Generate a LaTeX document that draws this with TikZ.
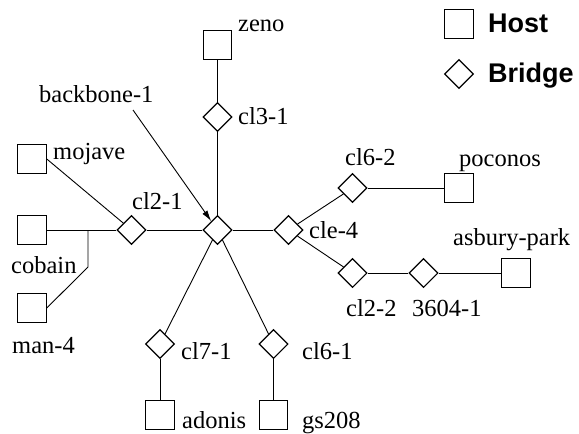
\documentclass[tikz,border=0pt]{standalone}
\usepackage{fontspec}
\setmainfont{Liberation Serif}
\newfontfamily\legendfont{Liberation Sans}
\usetikzlibrary{shapes.geometric,arrows.meta}
\tikzset{
  host/.style={draw, line width=1.1pt, minimum size=28.5pt, inner sep=0pt, fill=white},
  bridge/.style={draw, diamond, line width=1.1pt, minimum width=29pt, minimum height=29pt, inner sep=0pt, fill=white},
  lbl/.style={inner sep=0pt, anchor=base west, font=\fontsize{24.5}{28}\selectfont},
  leg/.style={inner sep=0pt, anchor=base west, font=\legendfont\bfseries\fontsize{27}{30}\selectfont},
  link/.style={line width=0.9pt}
}
\begin{document}
\begin{tikzpicture}[x=1pt,y=-1pt]
\useasboundingbox (0,0) rectangle (579,434);
% hosts
\node[host] (zeno) at (217.5,45) {};
\node[host] (mojave) at (32,159) {};
\node[host] (cobain) at (32,230) {};
\node[host] (man4) at (32,308) {};
\node[host] (poconos) at (459,188) {};
\node[host] (asbury) at (516,273) {};
\node[host] (adonis) at (160,415) {};
\node[host] (gs208) at (273.5,415) {};
% bridges
\node[bridge] (bb) at (217.5,230) {};
\node[bridge] (cl31) at (217.5,117) {};
\node[bridge] (cl21) at (131.5,230) {};
\node[bridge] (cle4) at (288.5,230) {};
\node[bridge] (cl62) at (352.5,188) {};
\node[bridge] (cl22) at (352.5,273) {};
\node[bridge] (b3604) at (423.5,273) {};
\node[bridge] (cl71) at (160,344) {};
\node[bridge] (cl61) at (273.5,344) {};
% coordinates
\coordinate (j1) at (88,230);
\coordinate (j2) at (88,267);
\coordinate (bbtail) at (133,110);
% links
\draw[link] (zeno) -- (cl31);
\draw[link] (cl31) -- (bb);
\draw[link] (bb) -- (cl21);
\draw[link] (cl21) -- (cobain);
\draw[link] (mojave.east) -- (cl21);
\draw[link] (j1) -- (j2) -- (man4.east);
\draw[link] (bb) -- (cle4);
\draw[link] (cle4) -- (cl62);
\draw[link] (cle4) -- (cl22);
\draw[link] (cl62) -- (poconos);
\draw[link] (cl22) -- (b3604);
\draw[link] (b3604) -- (asbury);
\draw[link] (bb) -- (cl71);
\draw[link] (bb) -- (cl61);
\draw[link] (cl71) -- (adonis);
\draw[link] (cl61) -- (gs208);
\draw[link, -{Latex[length=11pt,width=6pt]}] (bbtail) -- (bb);
% labels
\node[lbl] (tzeno) at (238,31) {zeno};
\node[lbl] (tcl31) at (238,124) {cl3-1};
\node[lbl] (tbb) at (39,102) {backbone-1};
\node[lbl] (tmojave) at (53,159) {mojave};
\node[lbl] (tcl21) at (132,209) {cl2-1};
\node[lbl] (tcobain) at (11,273) {cobain};
\node[lbl] (tman4) at (12,353) {man-4};
\node[lbl] (tcl62) at (345,165) {cl6-2};
\node[lbl] (tpoconos) at (459,166) {poconos};
\node[lbl] (tcle4) at (309,238) {cle-4};
\node[lbl] (tasbury) at (453,245) {asbury-park};
\node[lbl] (tcl22) at (346,316) {cl2-2};
\node[lbl] (t3604) at (412,316) {3604-1};
\node[lbl] (tcl71) at (181,359) {cl7-1};
\node[lbl] (tcl61) at (302,359) {cl6-1};
\node[lbl] (tadonis) at (182,428) {adonis};
\node[lbl] (tgs208) at (302,428) {gs208};
% legend
\node[host] (leghost) at (459,24) {};
\node[bridge] (legbridge) at (459,74) {};
\node[leg] (thost) at (488,32) {Host};
\node[leg] (tbridge) at (488,82) {Bridge};
\end{tikzpicture}
\end{document}
